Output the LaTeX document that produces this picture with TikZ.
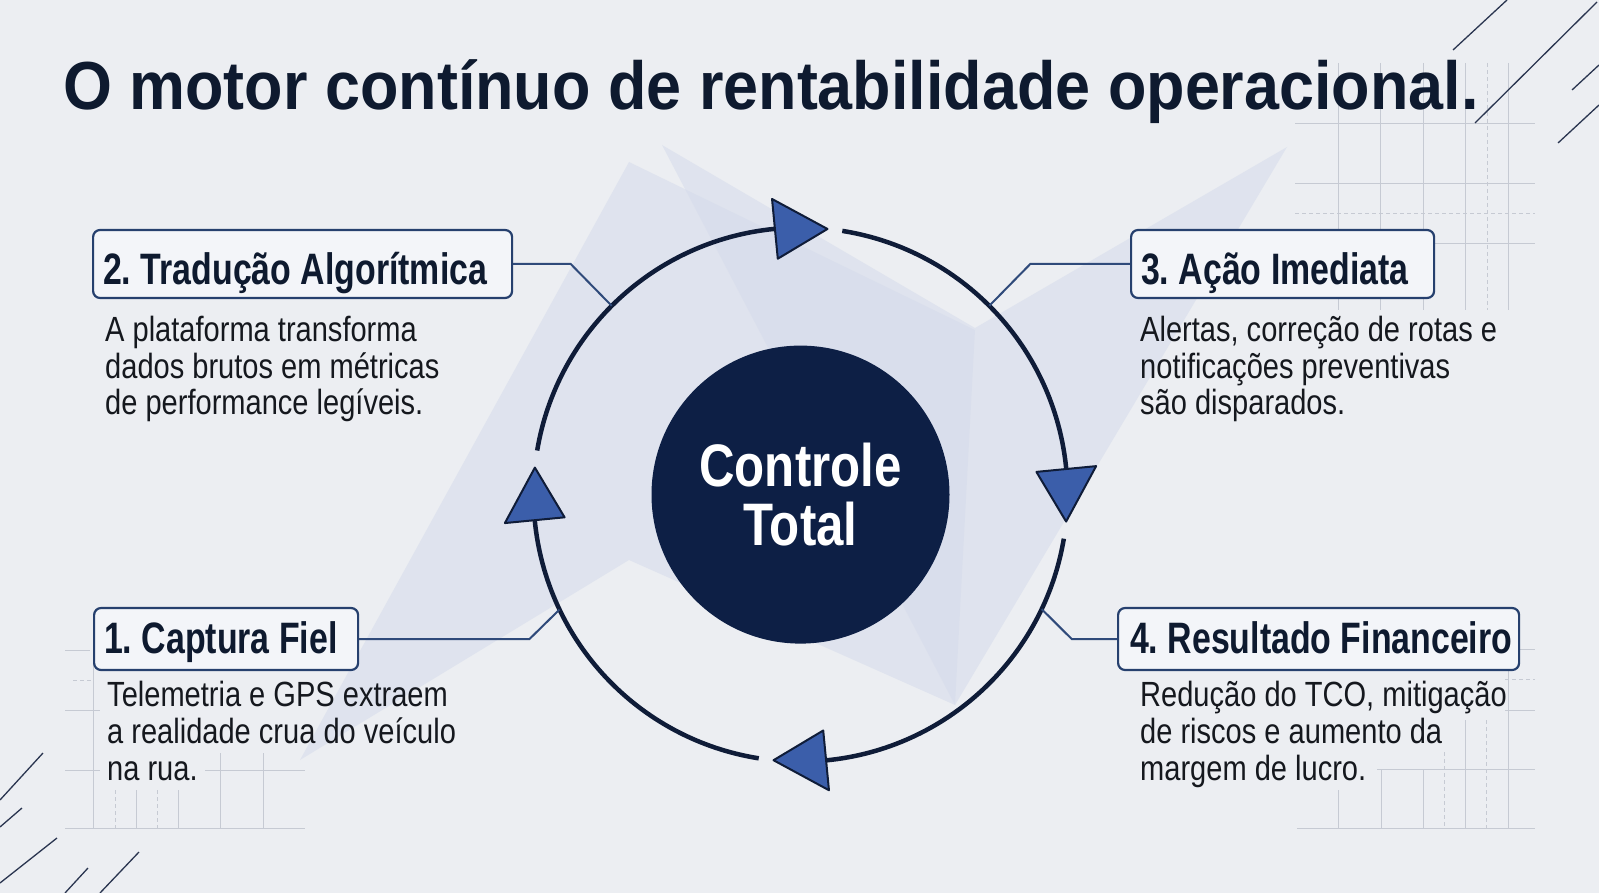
\documentclass[tikz,border=0pt]{standalone}
\usepackage{fontspec}
\usetikzlibrary{calc}
\newfontfamily\ttlfont[FakeStretch=0.925]{Liberation Sans}
\newfontfamily\hdfont[FakeStretch=0.77]{Liberation Sans}
\newfontfamily\ctrfont[FakeStretch=0.82]{Liberation Sans}
\newfontfamily\bdfont[FakeStretch=0.83]{Liberation Sans}
\frenchspacing
\definecolor{bg}{HTML}{ECEEF2}
\definecolor{ink}{HTML}{0E1A2F}
\definecolor{body}{HTML}{15181E}
\definecolor{boxline}{HTML}{26406E}
\definecolor{boxfill}{HTML}{F3F5F9}
\definecolor{conn}{HTML}{2F4A7A}
\definecolor{ring}{HTML}{0F1C38}
\definecolor{arrowfill}{HTML}{3B5EAA}
\definecolor{core}{HTML}{0D1F45}
\definecolor{grid}{HTML}{C6CAD3}
\definecolor{diag}{HTML}{2A3550}
\definecolor{bgshape}{HTML}{D5DBEB}
\tikzset{
  stepbox/.style={draw=boxline, line width=2.2pt, fill=boxfill, rounded corners=7pt,
    anchor=west, inner xsep=10pt, text=ink,
    font=\hdfont\bfseries\fontsize{44pt}{48pt}\selectfont},
  bodyline/.style={anchor=base west, inner sep=0pt, text=body,
    font=\bdfont\fontsize{35pt}{37pt}\selectfont},
  connline/.style={draw=conn, line width=2pt},
  ringarc/.style={draw=ring, line width=4.5pt},
  headtri/.style={fill=arrowfill, draw=ring, line width=2pt, line join=round},
  gridline/.style={draw=grid, line width=0.9pt},
  griddash/.style={draw=grid, line width=0.9pt, dash pattern=on 4pt off 3pt},
  diagline/.style={draw=diag, line width=1.3pt},
  bgpoly/.style={fill=bgshape, fill opacity=0.55},
}
\begin{document}
\begin{tikzpicture}[x=1pt,y=-1pt]
\useasboundingbox (0,0) rectangle (1599,893);
\fill[bg] (0,0) rectangle (1599,893);

% background shapes
\fill[bgpoly] (629,162) -- (300,760) -- (629,560) -- (955,705) -- (975,330) -- cycle;
\fill[bgpoly] (662,145) -- (955,705) -- (1287,147) -- (975,328) -- cycle;

% grids top right
\foreach \yy in {123,183,243} \draw[gridline] (1295,\yy) -- (1535,\yy);
\draw[griddash] (1295,213) -- (1535,213);
\foreach \xx in {1338,1380,1423,1465,1508} \draw[gridline] (\xx,63) -- (\xx,310);
\draw[griddash] (1487,63) -- (1487,310);
% grids bottom left
\draw[gridline] (65,650) -- (90,650);
\draw[griddash] (73,680) -- (93,680);
\draw[gridline] (65,710) -- (100,710);
\draw[gridline] (65,770) -- (100,770);
\draw[gridline] (205,770) -- (305,770);
\draw[gridline] (65,828) -- (305,828);
\draw[gridline] (93,650) -- (93,828);
\foreach \xx in {136,178} \draw[gridline] (\xx,790) -- (\xx,828);
\foreach \xx in {115,157} \draw[griddash] (\xx,790) -- (\xx,828);
\foreach \xx in {220,263} \draw[gridline] (\xx,753) -- (\xx,828);
% grids bottom right
\draw[gridline] (1518,649) -- (1535,649);
\draw[griddash] (1505,679) -- (1535,679);
\draw[gridline] (1505,710) -- (1535,710);
\draw[gridline] (1377,769) -- (1535,769);
\draw[gridline] (1297,828) -- (1535,828);
\draw[gridline] (1338,790) -- (1338,828);
\foreach \xx in {1381,1423} \draw[gridline] (\xx,769) -- (\xx,828);
\draw[griddash] (1444,752) -- (1444,828);
\draw[gridline] (1465,720) -- (1465,828);
\draw[griddash] (1486,720) -- (1486,828);
\draw[gridline] (1508,640) -- (1508,828);

% diagonal accents
\draw[diagline] (1453,50) -- (1507,0);
\draw[diagline] (1475,123) -- (1597,2);
\draw[diagline] (1572,90) -- (1599,65);
\draw[diagline] (1558,143) -- (1599,105);
\draw[diagline] (0,800) -- (43,753);
\draw[diagline] (0,827) -- (22,808);
\draw[diagline] (0,883) -- (57,838);
\draw[diagline] (65,893) -- (88,868);
\draw[diagline] (100,893) -- (139,852);

% title
\node[anchor=base west, inner sep=0pt, text=ink, font=\ttlfont\bfseries\fontsize{68pt}{72pt}\selectfont]
  (title) at (63,110) {O motor contínuo de rentabilidade operacional.};

% centre
\node[circle, fill=core, minimum size=298pt, inner sep=0pt, text=white, align=center,
  font=\ctrfont\bfseries\fontsize{60pt}{59.5pt}\selectfont] (ctr) at (800.5,494.6) {Controle\\Total};

% ring arcs
\draw[ringarc] (ctr.center) ++(279:267) arc[start angle=279, end angle=354.5, radius=267];
\draw[ringarc] (ctr.center) ++(9.5:267) arc[start angle=9.5, end angle=84.5, radius=267];
\draw[ringarc] (ctr.center) ++(99:267) arc[start angle=99, end angle=174.5, radius=267];
\draw[ringarc] (ctr.center) ++(189.5:267) arc[start angle=189.5, end angle=264.5, radius=267];
% arrow heads
\foreach \c in {0,90,180,270}{
  \filldraw[headtri] ($(ctr.center)+(\c-5.5:297)$) -- ($(ctr.center)+(\c+5.8:267)$)
     -- ($(ctr.center)+(\c-5.5:237)$) -- cycle;
}

% ring anchor points
\coordinate (r1) at ($(ctr.center)+(154.5:267)$);
\coordinate (r2) at ($(ctr.center)+(225:267)$);
\coordinate (r3) at ($(ctr.center)+(315:267)$);
\coordinate (r4) at ($(ctr.center)+(25.4:267)$);
\coordinate (e1) at ($(r1)+(-30,30)$);
\coordinate (e2) at ($(r2)+(-41,-41)$);
\coordinate (e3) at ($(r3)+(41,-41)$);
\coordinate (e4) at ($(r4)+(30,30)$);

% step boxes
\node[stepbox, minimum height=68pt, text height=42pt, text depth=0pt]
  (b2) at (92,264) {\makebox[399pt][l]{2. Tradução Algorítmica}};
\node[stepbox, minimum height=68pt, text height=42pt, text depth=0pt]
  (b3) at (1130,264) {\makebox[283pt][l]{3. Ação Imediata}};
\node[stepbox, minimum height=62pt, text height=28pt, text depth=0pt]
  (b1) at (93,639) {\makebox[244pt][l]{1. Captura Fiel}};
\node[stepbox, minimum height=62pt, text height=28pt, text depth=0pt, inner xsep=12pt]
  (b4) at (1117,639) {\makebox[377pt][l]{4. Resultado Financeiro}};

% connectors
\draw[connline] (b1.east) -- (b1.east -| e1) -- (r1);
\draw[connline] (b2.east) -- (b2.east -| e2) -- (r2);
\draw[connline] (b3.west) -- (b3.west -| e3) -- (r3);
\draw[connline] (b4.west) -- (b4.west -| e4) -- (r4);

% body texts
\node[bodyline] (t2a) at (105,342) {A plataforma transforma};
\node[bodyline] (t2b) at (105,378) {dados brutos em métricas};
\node[bodyline] (t2c) at (105,414) {de performance legíveis.};
\node[bodyline] (t3a) at (1140,342) {Alertas, correção de rotas e};
\node[bodyline] (t3b) at (1140,378) {notificações preventivas};
\node[bodyline] (t3c) at (1140,414) {são disparados.};
\node[bodyline] (t1a) at (107,706) {Telemetria e GPS extraem};
\node[bodyline] (t1b) at (107,743) {a realidade crua do veículo};
\node[bodyline] (t1c) at (107,780) {na rua.};
\node[bodyline] (t4a) at (1140,706) {Redução do TCO, mitigação};
\node[bodyline] (t4b) at (1140,743) {de riscos e aumento da};
\node[bodyline] (t4c) at (1140,780) {margem de lucro.};
\end{tikzpicture}
\end{document}
